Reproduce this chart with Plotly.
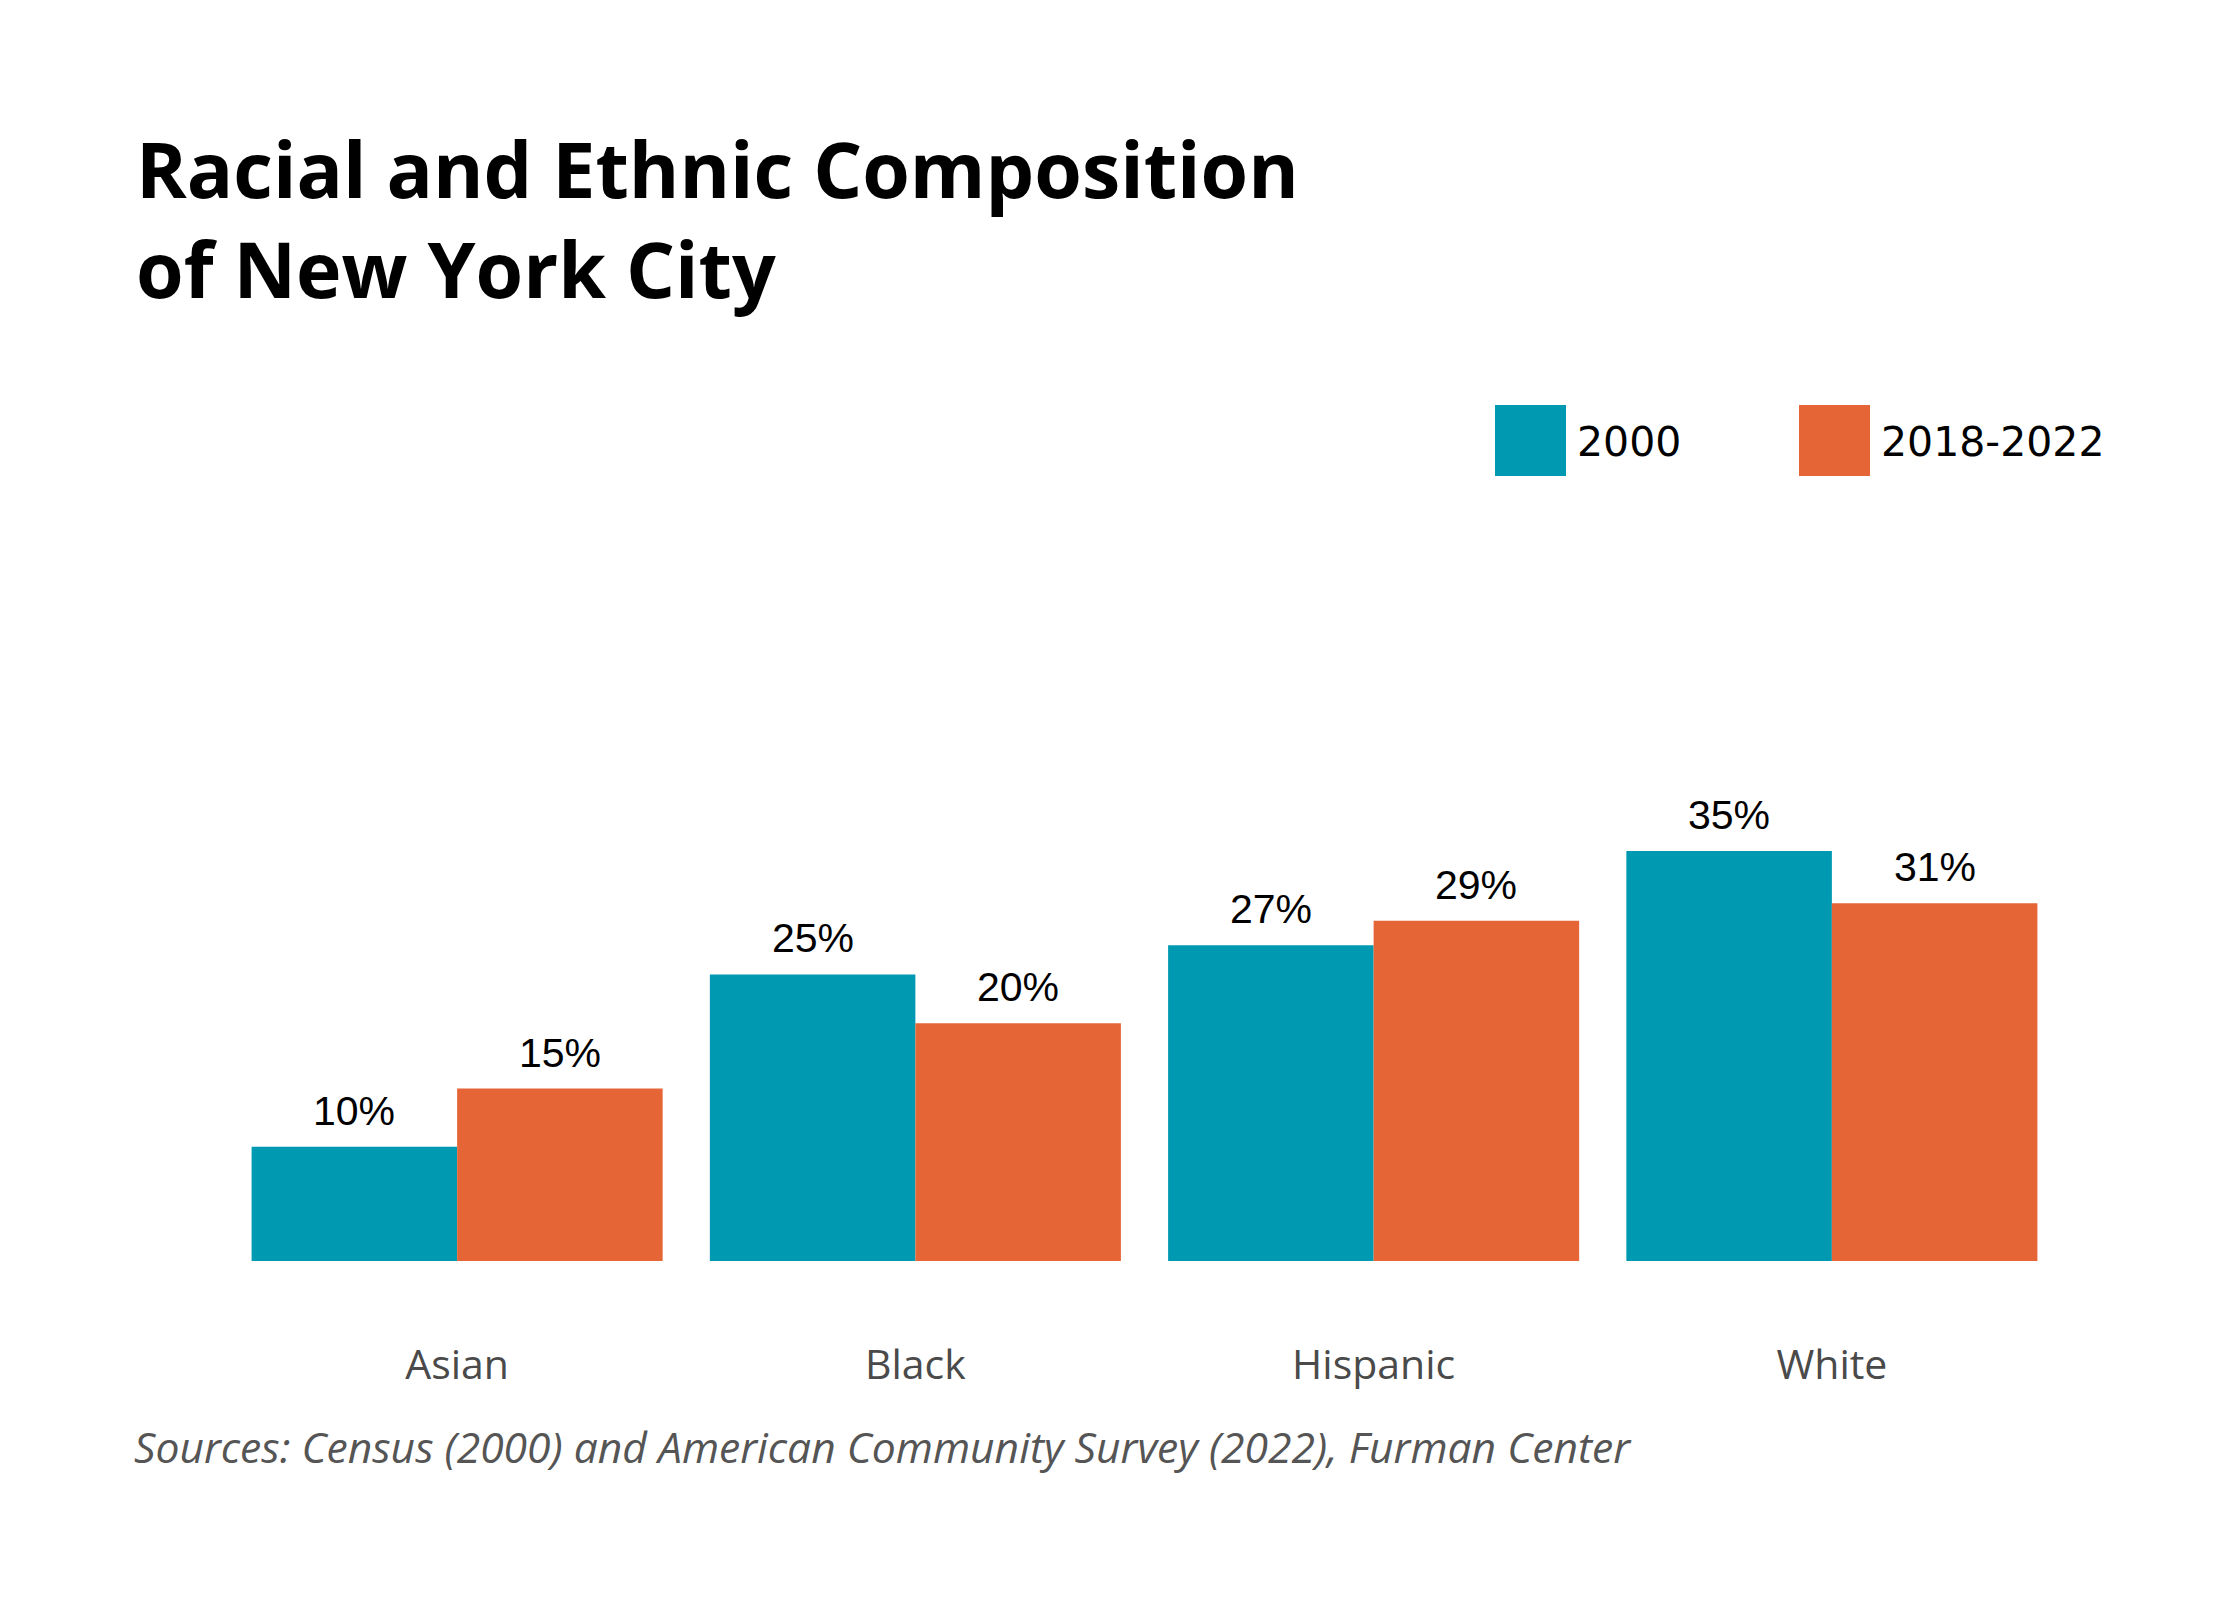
import plotly.graph_objects as go

categories = ["Asian", "Black", "Hispanic", "White"]
series_names = ["2000", "2018-2022"]
values_2000 = [9.8, 24.6, 27.1, 35.2]
values_2022 = [14.8, 20.4, 29.2, 30.7]
labels_2000 = ["10%", "25%", "27%", "35%"]
labels_2022 = ["15%", "20%", "29%", "31%"]

TEAL = "#0099B2"
ORANGE = "#E56536"
W, H = 2240, 1600
L, R, T, B = 228, 179, 795, 339
PW, PH = W - L - R, H - T - B


def px(x):
    return (x - L) / PW


def py(y):
    return (H - B - y) / PH


fig = go.Figure()
for name, vals, col in [(series_names[0], values_2000, TEAL), (series_names[1], values_2022, ORANGE)]:
    fig.add_trace(go.Bar(x=categories, y=vals, name=name, marker=dict(color=col, line=dict(width=0)),
                         showlegend=False, hoverinfo="x+y"))

# value labels above bars
half = PW / len(categories) * (1 - 0.103) / 4
for vals, labs, sign in [(values_2000, labels_2000, -1), (values_2022, labels_2022, 1)]:
    for c, v, t in zip(categories, vals, labs):
        fig.add_annotation(x=c, y=v, text=t, showarrow=False, xshift=sign * half, yshift=11,
                           yanchor="bottom", font=dict(family="Liberation Sans, Arial", size=41, color="#000"))

# legend (manual, large swatches)
legend_items = [(series_names[0], TEAL, 1495), (series_names[1], ORANGE, 1799)]
for name, col, x0 in legend_items:
    fig.add_shape(type="rect", xref="paper", yref="paper", x0=px(x0), x1=px(x0 + 71), y0=py(476), y1=py(405),
                  fillcolor=col, line=dict(width=0))
    fig.add_annotation(xref="paper", yref="paper", x=px(x0 + 80), y=py(442), text=name, showarrow=False,
                       xanchor="left", yanchor="middle", font=dict(family="DejaVu Sans", size=41, color="#000"))

# source note
fig.add_annotation(xref="paper", yref="paper", x=px(132), y=py(1446),
                   text="<i>Sources: Census (2000) and American Community Survey (2022), Furman Center</i>",
                   showarrow=False, xanchor="left", yanchor="middle",
                   font=dict(family="Open Sans", size=42.6, color="#555555"))

fig.update_layout(
    width=W, height=H,
    margin=dict(l=L, r=R, t=T, b=B),
    paper_bgcolor="white", plot_bgcolor="white",
    barmode="group", bargap=0.103, bargroupgap=0,
    title=dict(text="<b>Racial and Ethnic Composition<br>of New York City</b>",
               x=136 / W, xanchor="left", xref="container", y=1 - 198 / H, yanchor="top", yref="container",
               font=dict(family="Open Sans", size=77, color="#000")),
    xaxis=dict(showline=False, showgrid=False, ticks="", ticklabelstandoff=76,
               tickfont=dict(family="Open Sans", size=41, color="#4a4a4a")),
    yaxis=dict(range=[0, 40], visible=False),
)

fig.write_html("out.html", config={"displayModeBar": False},
               post_script="document.body.style.margin='0';")
